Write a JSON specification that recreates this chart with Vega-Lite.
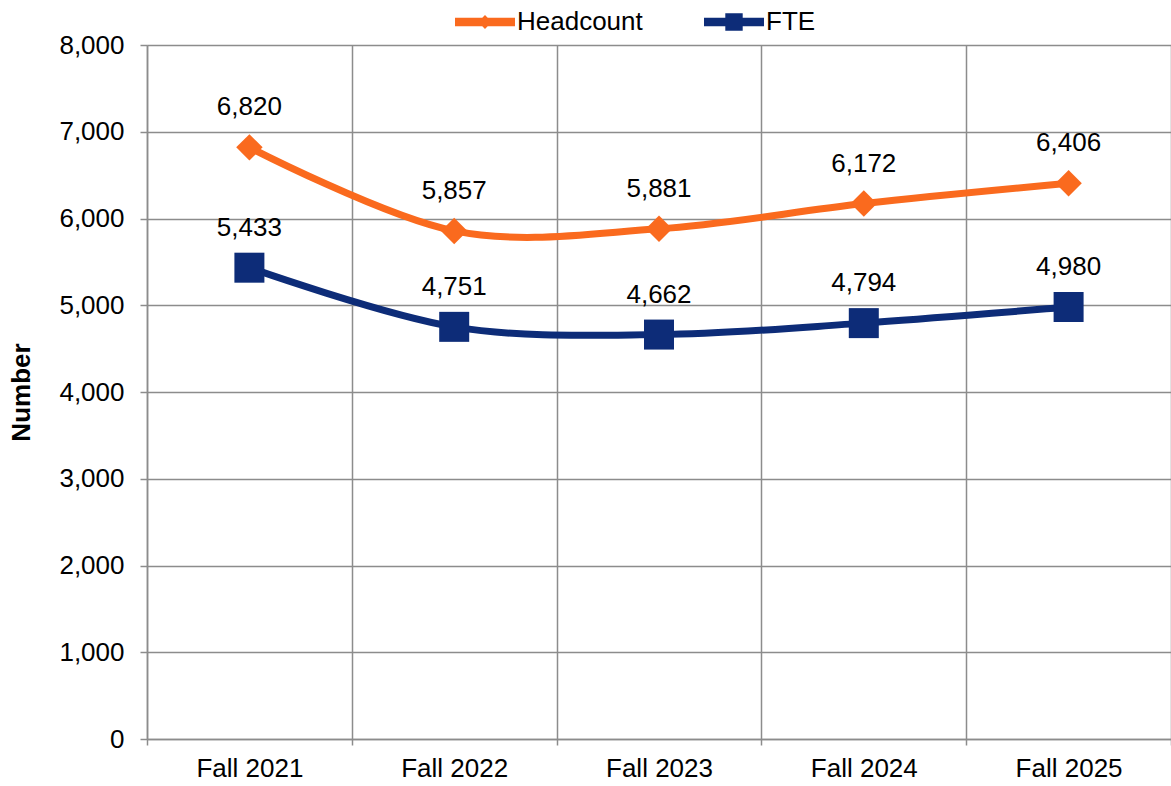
{
  "$schema": "https://vega.github.io/schema/vega-lite/v6.json",
  "width": 1024,
  "height": 694,
  "autosize": {"type": "none"},
  "padding": {"left": 147, "top": 45, "right": 0, "bottom": 47},
  "background": "white",
  "config": {
    "view": {"stroke": null},
    "font": "Liberation Sans",
    "axis": {"labelFont": "Liberation Sans", "titleFont": "Liberation Sans"},
    "legend": {"labelFont": "Liberation Sans"}
  },
  "data": {
    "values": [
      {"term": "Fall 2021", "series": "Headcount", "value": 6820},
      {"term": "Fall 2022", "series": "Headcount", "value": 5857},
      {"term": "Fall 2023", "series": "Headcount", "value": 5881},
      {"term": "Fall 2024", "series": "Headcount", "value": 6172},
      {"term": "Fall 2025", "series": "Headcount", "value": 6406},
      {"term": "Fall 2021", "series": "FTE", "value": 5433},
      {"term": "Fall 2022", "series": "FTE", "value": 4751},
      {"term": "Fall 2023", "series": "FTE", "value": 4662},
      {"term": "Fall 2024", "series": "FTE", "value": 4794},
      {"term": "Fall 2025", "series": "FTE", "value": 4980}
    ]
  },
  "encoding": {
    "x": {
      "field": "term",
      "type": "nominal",
      "sort": null,
      "scale": {"type": "band", "paddingInner": 0, "paddingOuter": 0},
      "axis": {
        "title": null,
        "labelAngle": 0,
        "labelFontSize": 26,
        "labelColor": "black",
        "labelPadding": 10,
        "tickBand": "extent",
        "tickSize": 6,
        "tickColor": "#8c8c8c",
        "tickWidth": 1.5,
        "domainColor": "#8c8c8c",
        "domainWidth": 1.5,
        "grid": true,
        "gridColor": "#8c8c8c",
        "gridWidth": 1.5
      }
    },
    "y": {
      "field": "value",
      "type": "quantitative",
      "scale": {"domain": [0, 8000], "nice": false},
      "axis": {
        "title": "Number",
        "titleFontSize": 26,
        "titleFontWeight": "bold",
        "titleColor": "black",
        "titlePadding": 24,
        "values": [0, 1000, 2000, 3000, 4000, 5000, 6000, 7000, 8000],
        "format": ",.0f",
        "labelFontSize": 26,
        "labelColor": "black",
        "labelPadding": 16,
        "tickSize": 7,
        "tickColor": "#8c8c8c",
        "tickWidth": 1.5,
        "domainColor": "#8c8c8c",
        "domainWidth": 1.5,
        "grid": true,
        "gridColor": "#8c8c8c",
        "gridWidth": 1.5
      }
    },
    "color": {
      "field": "series",
      "type": "nominal",
      "sort": ["Headcount", "FTE"],
      "scale": {"domain": ["Headcount", "FTE"], "range": ["#FA6A1E", "#0D2C78"]},
      "legend": {
        "orient": "none",
        "direction": "horizontal",
        "legendX": 308,
        "legendY": -53,
        "padding": 0,
        "title": null,
        "labelFontSize": 26,
        "labelColor": "black",
        "labelOffset": 2,
        "symbolSize": 3600,
        "symbolStrokeWidth": 0,
        "columnPadding": 61,
        "encode": {
          "symbols": {
            "update": {
              "shape": {"signal": "datum.value === 'Headcount' ? 'M-1,-0.14L1,-0.14L1,0.14L-1,0.14Z M0,-0.23L0.23,0L0,0.23L-0.23,0Z' : 'M-1,-0.14L1,-0.14L1,0.14L-1,0.14Z M-0.29,-0.29L0.29,-0.29L0.29,0.29L-0.29,0.29Z'"},
              "size": {"value": 3600},
              "fill": {"signal": "datum.value === 'Headcount' ? '#FA6A1E' : '#0D2C78'"},
              "fillOpacity": {"value": 1},
              "strokeWidth": {"value": 0}
            }
          }
        }
      }
    }
  },
  "layer": [
    {
      "mark": {"type": "line", "strokeWidth": 7, "interpolate": "cardinal", "tension": 0}
    },
    {
      "transform": [{"filter": "datum.series === 'Headcount'"}],
      "mark": {"type": "point", "filled": true, "opacity": 1, "shape": "diamond", "size": 700}
    },
    {
      "transform": [{"filter": "datum.series === 'FTE'"}],
      "mark": {"type": "point", "filled": true, "opacity": 1, "shape": "square", "size": 900}
    },
    {
      "mark": {"type": "text", "fontSize": 26, "dy": -40, "color": "black", "font": "Liberation Sans"},
      "encoding": {
        "text": {"field": "value", "type": "quantitative", "format": ","},
        "color": {"value": "black"}
      }
    }
  ]
}
